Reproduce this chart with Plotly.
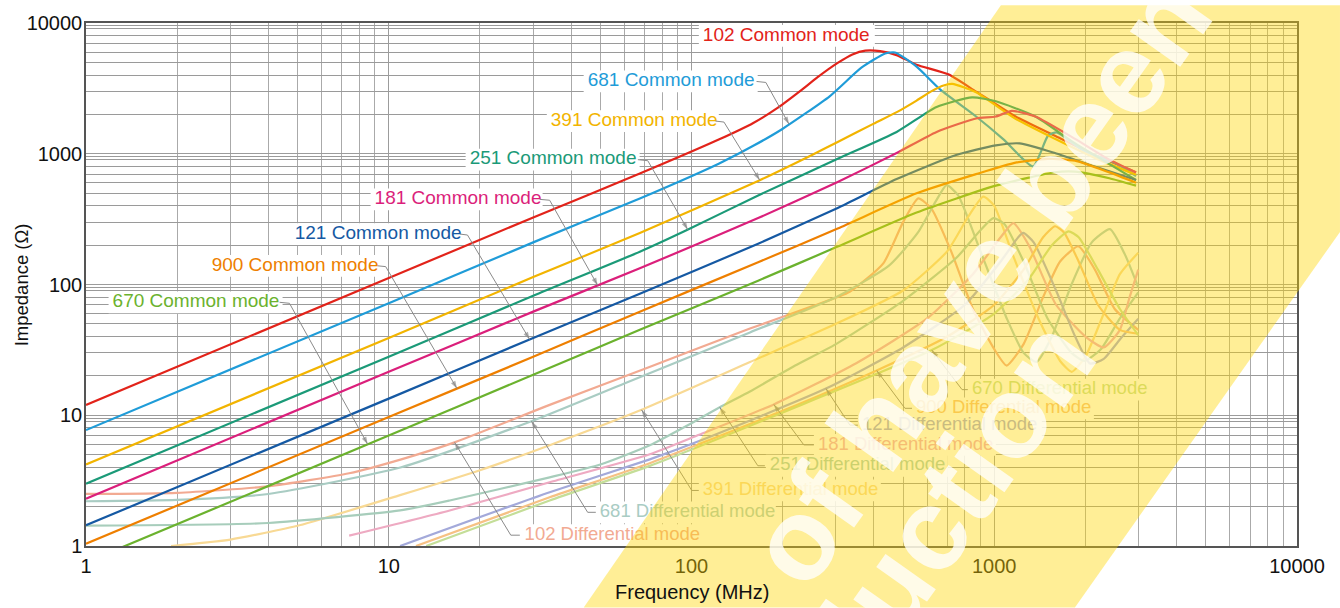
import numpy as np
import plotly.graph_objects as go

# ---------------- data (frequency in MHz, impedance in ohm) ----------------
cm102_f = [1, 10, 30, 67.5, 123, 160, 193, 230, 261, 304, 340, 375, 420, 476, 554, 705, 871, 1176, 1586, 2148, 2940]
cm102_z = [12, 112, 326, 705, 1283, 1720, 2250, 3050, 3850, 4950, 5750, 6150, 6100, 5680, 4800, 4050, 2990, 1927, 1373, 977, 722]

cm681_f = [1, 10, 30, 67.5, 123, 160, 199, 286, 364, 436, 470, 554, 664, 871, 1075, 1343, 1506, 1608, 1963, 2537, 2940]
cm681_z = [7.7, 72, 210, 455, 840, 1150, 1540, 2750, 4550, 5850, 5950, 4640, 3090, 1927, 1283, 801, 1376, 1459, 1060, 840, 676]

cm391_f = [1, 10, 30, 67.5, 166, 250, 304, 400, 480, 554, 619, 680, 727, 871, 1176, 1586, 2148, 2940]
cm391_z = [4.2, 39, 114, 248, 620, 980, 1230, 1700, 2100, 2550, 3000, 3330, 3420, 2950, 1850, 1300, 930, 690]

cm251_f = [1, 10, 30, 67.5, 97, 166, 304, 476, 645, 845, 1012, 1367, 1849, 2940]
cm251_z = [3.0, 28, 82, 178, 262, 480, 915, 1468, 2280, 2700, 2520, 1927, 1200, 630]

cm181_f = [1, 10, 30, 67.5, 166, 304, 476, 645, 871, 1012, 1143, 1367, 1849, 2400, 2940]
cm181_z = [2.3, 21.5, 62, 133, 322, 609, 1012, 1468, 1862, 1927, 2130, 1927, 1300, 900, 720]

cm121_f = [1, 10, 30, 67.5, 166, 304, 476, 748, 1012, 1213, 1586, 2148, 2940]
cm121_z = [1.44, 13.4, 39, 85, 205, 385, 640, 977, 1159, 1200, 1012, 798, 630]

cm900_f = [1, 10, 30, 67.5, 166, 304, 554, 871, 1176, 1496, 1849, 2400, 2940]
cm900_z = [1.04, 9.7, 28, 62, 148, 268, 498, 698, 855, 915, 885, 720, 600]

cm670_f = [1, 10, 30, 67.5, 166, 304, 554, 1012, 1586, 1849, 2400, 2940]
cm670_z = [0.75, 7.0, 20.4, 45, 107, 195, 355, 570, 722, 730, 650, 570]

dm102_f = [1, 2, 4, 7.4, 11, 16.5, 34, 73, 156, 250, 333, 430, 500, 561, 620, 720, 850, 1000, 1099,
           1250, 1450, 1650, 1897, 2150, 2500, 2990]
dm102_z = [2.5, 2.55, 2.86, 3.6, 4.6, 6.2, 12, 23.5, 46, 68, 88, 145, 300, 456, 380, 180, 65, 32, 24,
           35, 80, 150, 196, 130, 65, 45]

dm681_f = [1, 2, 4, 11, 29.6, 60, 156, 300, 450, 560, 640, 696, 760, 900, 1100, 1250, 1380, 1550, 1800,
           2100, 2411, 2700, 2990]
dm681_z = [2.2, 2.25, 2.5, 4.0, 9, 17.5, 43, 80, 140, 250, 430, 575, 480, 180, 55, 30, 25.6, 40, 100,
           210, 265, 170, 95]

dm391_f = [1.91, 3, 5.07, 10.9, 20, 34, 68.4, 156, 300, 500, 700, 820, 920, 1000, 1150, 1400, 1650, 1803,
           2000, 2300, 2600, 2990]
dm391_z = [1.0, 1.12, 1.44, 2.45, 3.8, 5.9, 11, 25.5, 50, 90, 180, 330, 470, 400, 170, 55, 26, 21.5,
           28, 60, 120, 175]

dm251_f = [1, 4, 10.9, 15.9, 34, 50, 72.8, 100, 124, 156, 220, 300, 500, 750, 900, 993, 1080, 1250, 1500,
           1800, 1986, 2250, 2600, 2990]
dm251_z = [1.43, 1.5, 1.87, 2.23, 3.35, 4.2, 5.9, 8.7, 11.5, 15.2, 24, 35, 75, 160, 260, 322, 290, 150, 55,
           30, 26, 32, 55, 87]

dm181_f = [7.4, 15.9, 34, 72.8, 106, 187, 350, 600, 850, 1050, 1156, 1300, 1600, 2000, 2300, 2600, 2800, 2990]
dm181_z = [1.2, 1.87, 3.07, 5.03, 7.1, 12.1, 25, 55, 120, 230, 295, 200, 70, 40, 33, 45, 80, 130]

dm121_f = [10.9, 34, 72.8, 106, 278, 500, 800, 1050, 1200, 1247, 1350, 1600, 1850, 2071, 2300, 2600, 2990]
dm121_z = [1, 2.58, 4.6, 6.35, 16, 33, 70, 150, 230, 248, 210, 90, 40, 24.9, 27, 38, 54.6]

dm900_f = [12.3, 34, 72.8, 200, 409, 700, 1000, 1250, 1450, 1588, 1700, 1900, 2200, 2600, 2990]
dm900_z = [1, 2.36, 4.3, 10.8, 22, 40, 70, 130, 230, 279, 250, 150, 70, 45, 42]

dm670_f = [13.3, 34, 72.8, 200, 622, 1000, 1300, 1550, 1758, 1900, 2200, 2600, 2990]
dm670_z = [1, 2.23, 4.1, 10.5, 31.5, 60, 110, 200, 255, 230, 130, 65, 41]

x_tick_labels = ["1", "10", "100", "1000", "10000"]
y_tick_labels = ["1", "10", "100", "1000", "10000"]

# ---------------- series styling ----------------
common = [
    ("102 Common mode", cm102_f, cm102_z, "#E2231A"),
    ("681 Common mode", cm681_f, cm681_z, "#1F9CD8"),
    ("391 Common mode", cm391_f, cm391_z, "#F2B400"),
    ("251 Common mode", cm251_f, cm251_z, "#1B9A78"),
    ("181 Common mode", cm181_f, cm181_z, "#DB1F7B"),
    ("121 Common mode", cm121_f, cm121_z, "#1559A3"),
    ("900 Common mode", cm900_f, cm900_z, "#EE7F00"),
    ("670 Common mode", cm670_f, cm670_z, "#6BB22E"),
]
diff = [
    ("102 Differential mode", dm102_f, dm102_z, "#F2AA92"),
    ("681 Differential mode", dm681_f, dm681_z, "#A9CCC3"),
    ("391 Differential mode", dm391_f, dm391_z, "#F8D994"),
    ("251 Differential mode", dm251_f, dm251_z, "#A7CDBB"),
    ("181 Differential mode", dm181_f, dm181_z, "#EEAAC2"),
    ("121 Differential mode", dm121_f, dm121_z, "#A3A9DA"),
    ("900 Differential mode", dm900_f, dm900_z, "#F6C184"),
    ("670 Differential mode", dm670_f, dm670_z, "#C4DE98"),
]

fig = go.Figure()
for name, f, z, c in diff + common:
    fig.add_trace(go.Scatter(x=f, y=z, mode="lines", name=name,
                             line=dict(color=c, width=2.2, shape="spline", smoothing=0.55),
                             hoverinfo="skip", showlegend=False))


def on_curve(f, z, x):
    return 10 ** np.interp(np.log10(x), np.log10(f), np.log10(z))

# label placement: (text-left freq, text-centre Z, box width px,
#                   leader start freq, leader bend freq, leader bend Z, arrow tip freq)
label_cfg = {
    "102 Common mode": (109, 7975, 172, None, None, None, None),
    "681 Common mode": (45.4, 3573, 170, 164, 176, 3510, 210),
    "391 Common mode": (34.3, 1778, 168, 120, 128, 1747, 168),
    "251 Common mode": (18.5, 901, 170, 66.5, 71.7, 885, 97.2),
    "181 Common mode": (8.98, 448, 168, 31.5, 34.0, 441, 49.0),
    "121 Common mode": (4.89, 243, 168, 17.2, 18.2, 239, 29.2),
    "900 Common mode": (2.6, 139, 168, 9.19, 9.77, 137, 16.8),
    "670 Common mode": (1.224, 73.1, 170, 4.36, 4.70, 71.8, 8.52),
    "102 Differential mode": (28.1, 1.21, 178, 27.1, 25.3, 1.21, 16.5),
    "681 Differential mode": (49.8, 1.81, 176, 48.3, 45.4, 1.81, 29.6),
    "391 Differential mode": (109, 2.66, 178, 105.7, 100.2, 2.66, 68.4),
    "251 Differential mode": (181.5, 4.11, 178, 174.7, 165.6, 4.11, 124),
    "181 Differential mode": (261.5, 5.93, 178, 253.6, 235, 5.93, 187),
    "121 Differential mode": (365.4, 8.4, 180, 354.5, 333.6, 8.4, 278),
    "900 Differential mode": (551, 11.3, 178, 535, 507, 11.3, 409),
    "670 Differential mode": (844, 15.7, 178, 818, 783, 15.7, 622),
}

PX_DEC_X = 1211 / 4.0
PX_DEC_Y = 528 / 4.0
shapes = []
for name, f, z, c in common + diff:
    fl, zc, wpx, fs, fb, zb, ft = label_cfg[name]
    fr = fl * 10 ** (wpx / PX_DEC_X)
    fl0 = fl * 10 ** (-4 / PX_DEC_X)
    shapes.append(dict(type="rect", xref="x", yref="y", layer="between",
                       x0=fl0, x1=fr, y0=zc * 10 ** (-11 / PX_DEC_Y), y1=zc * 10 ** (11 / PX_DEC_Y),
                       fillcolor="white", line=dict(width=0)))
    size = 19 if "Common" in name else 18.5
    fig.add_trace(go.Scatter(x=[fl], y=[zc], mode="text", text=[name], textposition="middle right",
                             textfont=dict(family="Liberation Sans, Arial", size=size, color=c),
                             hoverinfo="skip", showlegend=False))
    if fs is not None:
        zt = on_curve(f, z, ft)
        fig.add_trace(go.Scatter(x=[fs, fb, ft], y=[zc, zb, zt], mode="lines+markers",
                                 line=dict(color="#8A8A8A", width=1),
                                 marker=dict(symbol="arrow", size=[0, 0, 8], angleref="previous",
                                             color="#8A8A8A", line=dict(width=0)),
                                 hoverinfo="skip", showlegend=False))

# watermark band (paper coordinates)
shapes.append(dict(type="path", xref="paper", yref="paper", layer="above",
                   path="M 0.411,-0.1174 L 0.7555,1.0341 L 1.0355,1.0341 L 1.0355,0.6004 L 0.8166,-0.1174 Z",
                   fillcolor="rgba(255,214,0,0.41)", line=dict(width=0)))

wm_font = dict(family="Liberation Sans, Arial", size=116, color="white", weight="bold")
annotations = [
    dict(text="Frequency (MHz)", xref="paper", yref="paper", x=0.5, y=-0.087, xanchor="center",
         yanchor="middle", showarrow=False, font=dict(family="Liberation Sans, Arial", size=20, color="#111")),
    dict(text="Impedance (Ω)", xref="paper", yref="paper", x=-0.053, y=0.5, xanchor="center",
         yanchor="middle", textangle=-90, showarrow=False,
         font=dict(family="Liberation Sans, Arial", size=18.5, color="#111")),
    dict(text="of have been", xref="paper", yref="paper", x=0.737, y=0.5057,
         xanchor="center", yanchor="middle", textangle=-54.7, showarrow=False, opacity=0.78,
         font=wm_font),
    dict(text="production", xref="paper", yref="paper", x=0.6668, y=-0.0659,
         xanchor="center", yanchor="middle", textangle=-54.7, showarrow=False, opacity=0.78,
         font=wm_font),
]

minor_x = [d * 10 ** k for k in range(4) for d in range(2, 10)]
minor_y = [d * 10 ** k for k in range(4) for d in list(range(2, 10)) + [9.5]]

axis_common = dict(type="log", range=[0, 4], showline=True, mirror=True, linecolor="#555", linewidth=1.5,
                   showgrid=True, gridcolor="#9C9C9C", gridwidth=1, zeroline=False,
                   ticks="", tickfont=dict(family="Liberation Sans, Arial", size=20, color="#111"),
                   tickmode="array")
fig.update_xaxes(**axis_common, tickvals=[1, 10, 100, 1000, 10000], ticktext=x_tick_labels,
                 ticklabelstandoff=1,
                 minor=dict(tickmode="array", tickvals=minor_x, showgrid=True, gridcolor="#AAAAAA",
                            gridwidth=1, ticks=""))
fig.update_yaxes(**axis_common, tickvals=[1, 10, 100, 1000, 10000], ticktext=y_tick_labels,
                 ticklabelstandoff=-2,
                 minor=dict(tickmode="array", tickvals=minor_y, showgrid=True, gridcolor="#9A9A9A",
                            gridwidth=1, ticks=""))

fig.update_layout(width=1340, height=608, autosize=False,
                  margin=dict(l=86, r=43, t=18, b=62),
                  paper_bgcolor="white", plot_bgcolor="white",
                  shapes=shapes, annotations=annotations, showlegend=False)

fig.write_html("out.html", config={"displayModeBar": False},
               post_script="document.body.style.margin='0';")
